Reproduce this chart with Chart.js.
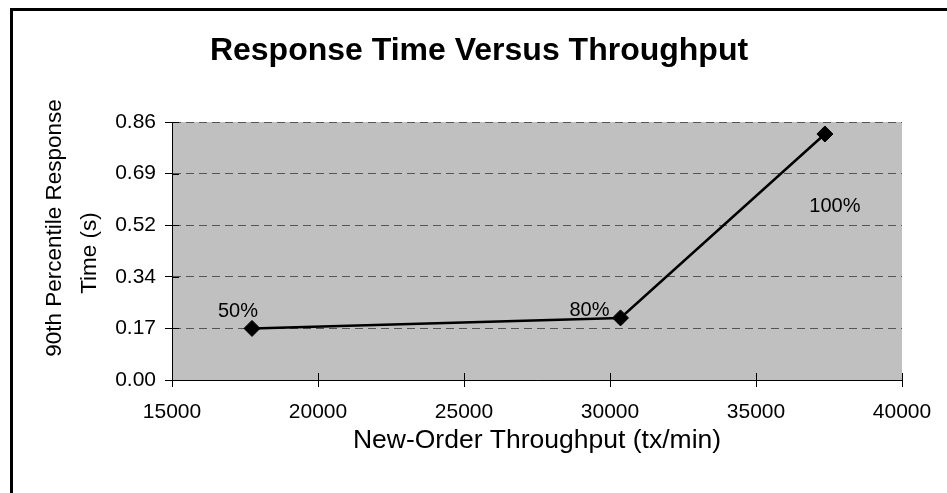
<!DOCTYPE html>
<html>
<head>
<meta charset="utf-8">
<title>Response Time Versus Throughput</title>
<script src="https://cdn.jsdelivr.net/npm/chart.js@4.4.1/dist/chart.umd.min.js"></script>
<style>
  html, body { margin: 0; padding: 0; background: #fff; }
  #wrap { width: 947px; height: 493px; }
</style>
</head>
<body>
<div id="wrap"><canvas id="rt-chart" width="947" height="493"></canvas></div>
<script>
(function () {
  // data
  var throughput = [17740, 30360, 37360];
  var responseTime = [0.172, 0.207, 0.820];
  var loadLabels = ["50%", "80%", "100%"];
  var xTicks = [15000, 20000, 25000, 30000, 35000, 40000];
  var yTicks = [0, 0.172, 0.344, 0.516, 0.688, 0.86];

  var FONT = '"Liberation Sans", Arial, sans-serif';
  Chart.defaults.font.family = FONT;
  Chart.defaults.color = "#000";

  var plotBackground = {
    id: "plotBackground",
    beforeDraw: function (chart) {
      var a = chart.chartArea;
      var ctx = chart.ctx;
      ctx.save();
      ctx.fillStyle = "#c0c0c0";
      ctx.fillRect(a.left, a.top, a.right - a.left, a.bottom - a.top);
      // frame: only the top and left edges show in the picture
      ctx.fillStyle = "#000";
      ctx.fillRect(10, 8, 3, chart.height - 8);
      ctx.fillRect(10, 8, chart.width - 10, 3);
      ctx.restore();
    }
  };

  // tick marks cross the axes, so draw the inner half too
  var innerTicks = {
    id: "innerTicks",
    beforeDatasetsDraw: function (chart) {
      var ctx = chart.ctx;
      var a = chart.chartArea;
      var xs = chart.scales.x;
      var ys = chart.scales.y;
      ctx.save();
      ctx.strokeStyle = "#000";
      ctx.lineWidth = 1;
      ctx.beginPath();
      xs.ticks.forEach(function (t) {
        var px = Math.round(xs.getPixelForValue(t.value)) + 0.5;
        ctx.moveTo(px, a.bottom);
        ctx.lineTo(px, a.bottom - 7);
      });
      ys.ticks.forEach(function (t) {
        var py = Math.round(ys.getPixelForValue(t.value)) + 0.5;
        ctx.moveTo(a.left, py);
        ctx.lineTo(a.left + 7, py);
      });
      ctx.stroke();
      ctx.restore();
    }
  };

  var yTitle = {
    id: "yTitle",
    afterDraw: function (chart, args, opts) {
      var ctx = chart.ctx;
      var a = chart.chartArea;
      var cy = (a.top + a.bottom) / 2;
      ctx.save();
      ctx.fillStyle = "#000";
      ctx.font = opts.size + "px " + FONT;
      ctx.textAlign = "center";
      ctx.textBaseline = "middle";
      opts.lines.forEach(function (line, i) {
        ctx.save();
        ctx.translate(a.left + opts.dx[i], cy + opts.dy[i]);
        ctx.rotate(-Math.PI / 2);
        ctx.fillText(line, 0, 0);
        ctx.restore();
      });
      ctx.restore();
    }
  };

  var pointLabels = {
    id: "pointLabels",
    afterDatasetsDraw: function (chart, args, opts) {
      var ctx = chart.ctx;
      var meta = chart.getDatasetMeta(0);
      ctx.save();
      ctx.fillStyle = "#000";
      ctx.font = opts.size + "px " + FONT;
      ctx.textAlign = "center";
      ctx.textBaseline = "middle";
      meta.data.forEach(function (pt, i) {
        var off = opts.offsets[i];
        ctx.fillText(loadLabels[i], pt.x + off[0], pt.y + off[1]);
      });
      ctx.restore();
    }
  };

  var points = throughput.map(function (x, i) {
    return { x: x, y: responseTime[i] };
  });

  new Chart(document.getElementById("rt-chart"), {
    type: "line",
    data: {
      datasets: [{
        data: points,
        borderColor: "#000",
        borderWidth: 2.5,
        tension: 0,
        fill: false,
        pointStyle: "rectRot",
        pointRadius: 8,
        pointBackgroundColor: "#000",
        pointBorderColor: "#000",
        pointBorderWidth: 1
      }]
    },
    options: {
      responsive: false,
      animation: false,
      devicePixelRatio: 1,
      layout: { padding: { left: 56, right: 45, top: 0, bottom: 0 } },
      plugins: {
        legend: { display: false },
        tooltip: { enabled: false },
        title: {
          display: true,
          text: "Response Time Versus Throughput",
          font: { size: 32, weight: "bold" },
          color: "#000",
          padding: { top: 32, bottom: 51.6 }
        },
        yTitle: {
          lines: ["90th Percentile Response", "Time (s)"],
          size: 22.5,
          dx: [-117, -82],
          dy: [-23, 2]
        },
        pointLabels: {
          size: 20,
          offsets: [[-14, -17], [-31, -7], [10, 72]]
        }
      },
      scales: {
        x: {
          type: "linear",
          min: 15000,
          max: 40000,
          afterBuildTicks: function (scale) {
            scale.ticks = xTicks.map(function (v) { return { value: v }; });
          },
          afterFit: function (scale) { scale.height = 113; },
          ticks: {
            font: { size: 21 },
            color: "#000",
            padding: 13,
            maxRotation: 0,
            autoSkip: false,
            callback: function (v) { return String(v); }
          },
          grid: { drawOnChartArea: false, tickLength: 7, tickColor: "#000" },
          border: { color: "#000", width: 1 },
          title: {
            display: true,
            text: "New-Order Throughput (tx/min)",
            font: { size: 26.5 },
            color: "#000",
            padding: { top: 0, bottom: 36 }
          }
        },
        y: {
          type: "linear",
          min: 0,
          max: 0.86,
          afterBuildTicks: function (scale) {
            scale.ticks = yTicks.map(function (v) { return { value: v }; });
          },
          afterFit: function (scale) { scale.width = 116; },
          ticks: {
            font: { size: 21 },
            color: "#000",
            padding: 9,
            callback: function (v) { return v.toFixed(2); }
          },
          grid: {
            color: "#555",
            lineWidth: 1,
            tickLength: 7,
            tickColor: "#000",
            tickBorderDash: []
          },
          border: { color: "#000", width: 1, dash: [8, 5] }
        }
      }
    },
    plugins: [plotBackground, innerTicks, yTitle, pointLabels]
  });
})();
</script>
</body>
</html>
